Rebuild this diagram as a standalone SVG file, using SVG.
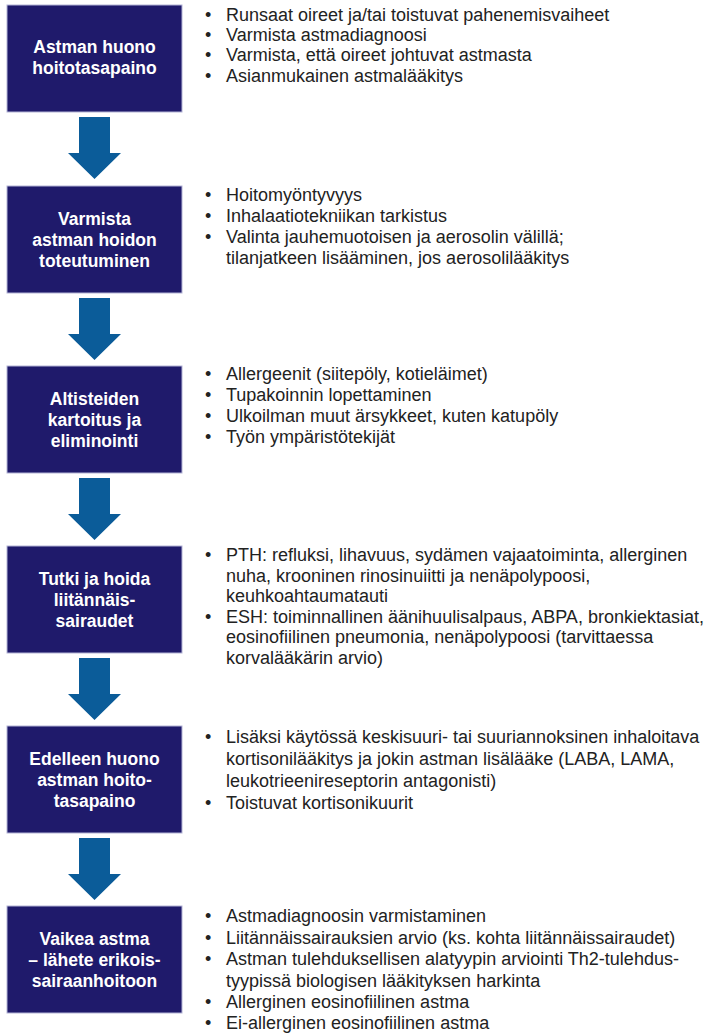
<svg xmlns="http://www.w3.org/2000/svg" xmlns:xlink="http://www.w3.org/1999/xlink" width="712" height="1033" viewBox="0 0 712 1033">
<defs>
<style>
.box{fill:#1f1a6b;stroke:#b4b4d6;stroke-width:1}
.bt{font-family:"Liberation Sans",Arial,sans-serif;font-size:17.5px;font-weight:bold;fill:#ffffff;text-anchor:middle}
.tx{font-family:"Liberation Sans",Arial,sans-serif;font-size:18px;fill:#222222}
.arr{fill:#0b5c99}
</style>
<path id="arrow" class="arr" d="M79,0 H110 V36 H121 L94.5,62 L68,36 H79 Z"/>
</defs>
<rect width="712" height="1033" fill="#ffffff"/>
<g id="connectors">
<use xlink:href="#arrow" href="#arrow" x="0" y="117"/>
<use xlink:href="#arrow" href="#arrow" x="0" y="298"/>
<use xlink:href="#arrow" href="#arrow" x="0" y="478"/>
<use xlink:href="#arrow" href="#arrow" x="0" y="658"/>
<use xlink:href="#arrow" href="#arrow" x="0" y="838"/>
</g>
<g id="node1">
<rect class="box" x="7" y="5" width="175" height="107"/>
<text class="bt" x="94.5" y="53">Astman huono</text>
<text class="bt" x="94.5" y="74">hoitotasapaino</text>
<text class="tx" x="205" y="21">•</text><text class="tx" x="226" y="21">Runsaat oireet ja/tai toistuvat pahenemisvaiheet</text>
<text class="tx" x="205" y="41">•</text><text class="tx" x="226" y="41">Varmista astmadiagnoosi</text>
<text class="tx" x="205" y="61">•</text><text class="tx" x="226" y="61">Varmista, että oireet johtuvat astmasta</text>
<text class="tx" x="205" y="81.5">•</text><text class="tx" x="226" y="81.5">Asianmukainen astmalääkitys</text>
</g>
<g id="node2">
<rect class="box" x="7" y="186" width="175" height="107"/>
<text class="bt" x="94.5" y="224.5">Varmista</text>
<text class="bt" x="94.5" y="245.5">astman hoidon</text>
<text class="bt" x="94.5" y="266.5">toteutuminen</text>
<text class="tx" x="205" y="201">•</text><text class="tx" x="226" y="201">Hoitomyöntyvyys</text>
<text class="tx" x="205" y="222">•</text><text class="tx" x="226" y="222">Inhalaatiotekniikan tarkistus</text>
<text class="tx" x="205" y="243">•</text><text class="tx" x="226" y="243">Valinta jauhemuotoisen ja aerosolin välillä;</text>
<text class="tx" x="226" y="264">tilanjatkeen lisääminen, jos aerosolilääkitys</text>
</g>
<g id="node3">
<rect class="box" x="7" y="366" width="175" height="107"/>
<text class="bt" x="94.5" y="404.5">Altisteiden</text>
<text class="bt" x="94.5" y="425.5">kartoitus ja</text>
<text class="bt" x="94.5" y="446.5">eliminointi</text>
<text class="tx" x="205" y="380">•</text><text class="tx" x="226" y="380">Allergeenit (siitepöly, kotieläimet)</text>
<text class="tx" x="205" y="401">•</text><text class="tx" x="226" y="401">Tupakoinnin lopettaminen</text>
<text class="tx" x="205" y="422">•</text><text class="tx" x="226" y="422">Ulkoilman muut ärsykkeet, kuten katupöly</text>
<text class="tx" x="205" y="443">•</text><text class="tx" x="226" y="443">Työn ympäristötekijät</text>
</g>
<g id="node4">
<rect class="box" x="7" y="546" width="175" height="107"/>
<text class="bt" x="94.5" y="584.5">Tutki ja hoida</text>
<text class="bt" x="94.5" y="605.5">liitännäis-</text>
<text class="bt" x="94.5" y="626.5">sairaudet</text>
<text class="tx" x="205" y="561">•</text><text class="tx" x="226" y="561">PTH: refluksi, lihavuus, sydämen vajaatoiminta, allerginen</text>
<text class="tx" x="226" y="581.5">nuha, krooninen rinosinuiitti ja nenäpolypoosi,</text>
<text class="tx" x="226" y="602">keuhkoahtaumatauti</text>
<text class="tx" x="205" y="622.5">•</text><text class="tx" x="226" y="622.5">ESH: toiminnallinen äänihuulisalpaus, ABPA, bronkiektasiat,</text>
<text class="tx" x="226" y="643">eosinofiilinen pneumonia, nenäpolypoosi (tarvittaessa</text>
<text class="tx" x="226" y="663.5">korvalääkärin arvio)</text>
</g>
<g id="node5">
<rect class="box" x="7" y="726" width="175" height="107"/>
<text class="bt" x="94.5" y="764.5">Edelleen huono</text>
<text class="bt" x="94.5" y="785.5">astman hoito-</text>
<text class="bt" x="94.5" y="806.5">tasapaino</text>
<text class="tx" x="205" y="743">•</text><text class="tx" x="226" y="743">Lisäksi käytössä keskisuuri- tai suuriannoksinen inhaloitava</text>
<text class="tx" x="226" y="765">kortisonilääkitys ja jokin astman lisälääke (LABA, LAMA,</text>
<text class="tx" x="226" y="787">leukotrieenireseptorin antagonisti)</text>
<text class="tx" x="205" y="809">•</text><text class="tx" x="226" y="809">Toistuvat kortisonikuurit</text>
</g>
<g id="node6">
<rect class="box" x="7" y="906" width="175" height="107"/>
<text class="bt" x="94.5" y="944.5">Vaikea astma</text>
<text class="bt" x="94.5" y="965.5">– lähete erikois-</text>
<text class="bt" x="94.5" y="986.5">sairaanhoitoon</text>
<text class="tx" x="205" y="922">•</text><text class="tx" x="226" y="922">Astmadiagnoosin varmistaminen</text>
<text class="tx" x="205" y="943.5">•</text><text class="tx" x="226" y="943.5">Liitännäissairauksien arvio (ks. kohta liitännäissairaudet)</text>
<text class="tx" x="205" y="965">•</text><text class="tx" x="226" y="965">Astman tulehduksellisen alatyypin arviointi Th2-tulehdus-</text>
<text class="tx" x="226" y="986.5">tyypissä biologisen lääkityksen harkinta</text>
<text class="tx" x="205" y="1008">•</text><text class="tx" x="226" y="1008">Allerginen eosinofiilinen astma</text>
<text class="tx" x="205" y="1029">•</text><text class="tx" x="226" y="1029">Ei-allerginen eosinofiilinen astma</text>
</g>
</svg>
